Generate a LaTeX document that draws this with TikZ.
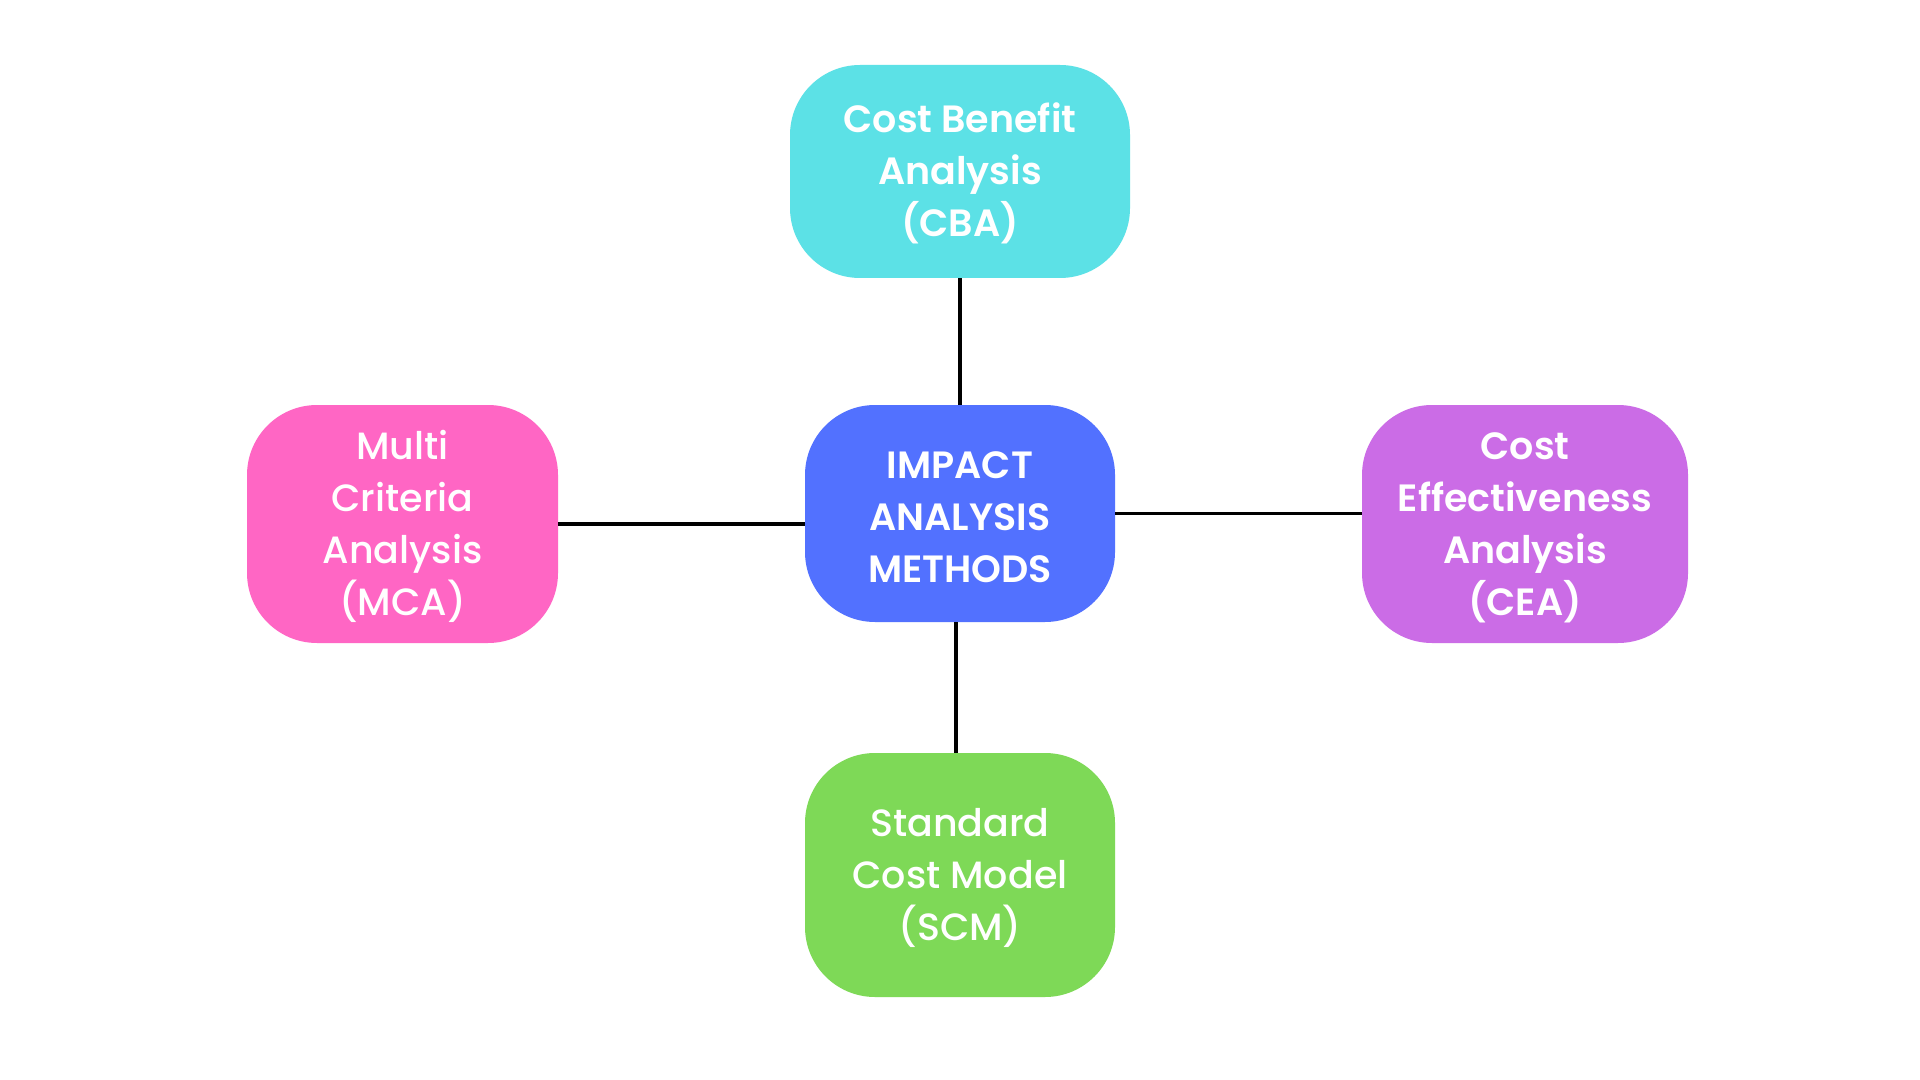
\documentclass[tikz,border=0pt]{standalone}
\usepackage{fontspec}
\newfontfamily\popreg{Poppins Medium}
\newfontfamily\popsemi{Poppins SemiBold}
\definecolor{cbacol}{HTML}{5CE1E6}
\definecolor{ctrcol}{HTML}{5271FF}
\definecolor{mcacol}{HTML}{FF66C4}
\definecolor{ceacol}{HTML}{CB6CE6}
\definecolor{scmcol}{HTML}{7ED957}
\newcommand{\tstrut}{\rule{0pt}{17pt}}
\tikzset{
  methodbox/.style={rectangle, rounded corners=35pt, draw=none, inner sep=0pt,
    align=center, text=white},
  semi/.style={font=\popsemi\fontsize{19}{26}\selectfont},
  regw/.style={font=\popreg\fontsize{19}{26}\selectfont},
  link/.style={draw=black, line width=1.75pt}
}
\begin{document}
\begin{tikzpicture}[x=0.5pt,y=-0.5pt]
\useasboundingbox (0,0) rectangle (1920,1080);
\fill[white] (0,0) rectangle (1920,1080);
\node[methodbox, semi, fill=cbacol, minimum width=170pt, minimum height=106.5pt] (cba) at (960,171.5) {\tstrut Cost Benefit\\Analysis\\(CBA)};
\node[methodbox, semi, fill=ctrcol, minimum width=155pt, minimum height=108.5pt] (ctr) at (960,513.5) {\tstrut IMPACT\\ANALYSIS\\METHODS};
\node[methodbox, regw, fill=mcacol, minimum width=155.5pt, minimum height=119pt] (mca) at (402.5,524) {\tstrut Multi\\Criteria\\Analysis\\(MCA)};
\node[methodbox, semi, fill=ceacol, minimum width=163pt, minimum height=119pt] (cea) at (1525,524) {\tstrut Cost\\Effectiveness\\Analysis\\(CEA)};
\node[methodbox, regw, fill=scmcol, minimum width=155pt, minimum height=122pt] (scm) at (960,875) {\tstrut Standard\\Cost Model\\(SCM)};
\draw[link] (cba.south) -- (ctr.north);
\draw[link] (mca.east) -- (mca.east -| ctr.west);
\draw[link] (ctr.east) -- (ctr.east -| cea.west);
\draw[link] ([xshift=-2pt]ctr.south) -- ([xshift=-2pt]scm.north);
\end{tikzpicture}
\end{document}
